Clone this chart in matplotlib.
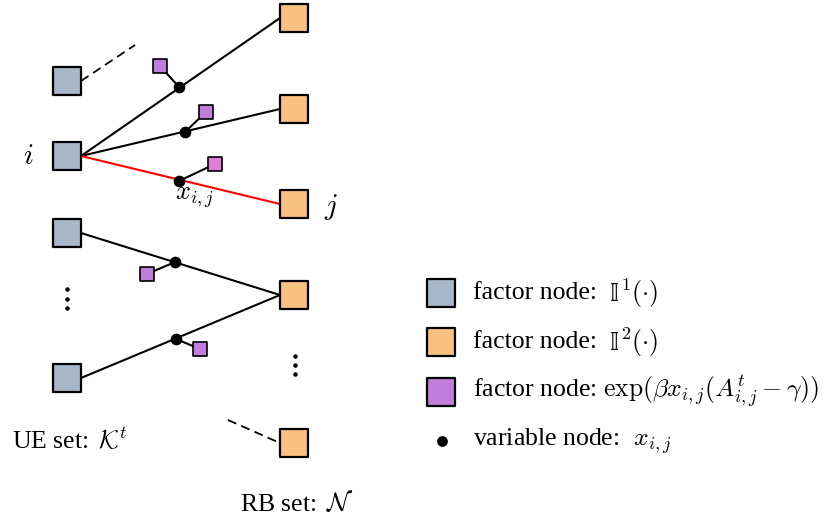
import matplotlib.pyplot as plt

plt.rcParams['font.family'] = ['Liberation Serif', 'DejaVu Serif']
plt.rcParams['mathtext.fontset'] = 'cm'

# node positions (pixel coordinates of the original drawing)
ue_x = 67
ue_y = [81, 156, 233, 378]
rb_x = 294
rb_y = [18, 109, 204, 295, 443]
half = 14  # half side of big square nodes

# edges: (ue index, rb index, colour)
edges = [(1, 0, 'black'), (1, 1, 'black'), (1, 2, 'red'), (2, 3, 'black'), (3, 3, 'black')]
var_x = [179, 185, 179, 175, 176]
var_y = [87, 132, 181, 262, 339]
exp_x = [160, 206, 215, 147, 200]
exp_y = [66, 112, 164, 274, 349]
exp_col = ['#c07ddb', '#c07ddb', '#df7ddb', '#c07ddb', '#c07ddb']

gray = '#a7b7c7'
orange = '#f9c17f'
purple = '#c07ddb'

fig = plt.figure(figsize=(8.35, 5.24), dpi=100)
ax = fig.add_axes([0, 0, 1, 1])
ax.set_xlim(0, 835)
ax.set_ylim(524, 0)
ax.axis('off')

# edges UE -> RB
for (u, r, c), vx, vy in zip(edges, var_x, var_y):
    ax.plot([ue_x + half, rb_x - half], [ue_y[u], rb_y[r]], color=c, lw=1.5, zorder=1)

# dashed edges
ax.plot([ue_x + half, 135], [ue_y[0], 45], color='black', lw=1.3, ls=(0, (5, 3)), zorder=1)
ax.plot([228, rb_x - half], [420, rb_y[4]], color='black', lw=1.3, ls=(0, (5, 3)), zorder=1)

# variable node -> exp factor
for vx, vy, ex, ey in zip(var_x, var_y, exp_x, exp_y):
    ax.plot([vx, ex], [vy, ey], color='black', lw=1.5, zorder=1)

ax.scatter([ue_x] * len(ue_y), ue_y, s=420, marker='s', c=gray, edgecolors='black', linewidths=1.6, zorder=3)
ax.scatter([rb_x] * len(rb_y), rb_y, s=420, marker='s', c=orange, edgecolors='black', linewidths=1.6, zorder=3)
ax.scatter(exp_x, exp_y, s=105, marker='s', c=exp_col, edgecolors='black', linewidths=1.2, zorder=3)
ax.scatter(var_x, var_y, s=55, c='black', zorder=4)

# vertical ellipses
ax.scatter([67] * 3, [289, 299, 308], s=5, c='black')
ax.scatter([295] * 3, [356, 365, 374], s=5, c='black')

# labels
ax.text(28, 157, r'$i$', fontsize=21, ha='center', va='center')
ax.text(331, 207, r'$j$', fontsize=21, ha='center', va='center')
ax.text(195, 198, r'$x_{i,j}$', fontsize=19, ha='center', va='center')
ax.text(12, 440, r'UE set: $\,\mathcal{K}^t$', fontsize=18.5, ha='left', va='center')
ax.text(240, 503, r'RB set: $\,\mathcal{N}$', fontsize=18.5, ha='left', va='center')

# legend
leg_y = [293, 342, 392, 441]
ax.scatter([441] * 3, leg_y[:3], s=420, marker='s', c=[gray, orange, purple], edgecolors='black', linewidths=1.6)
ax.scatter([442], [leg_y[3]], s=45, c='black')
for y, k in zip(leg_y[:2], ['1', '2']):
    ax.text(473, y, 'factor node:', fontsize=18.5, ha='left', va='center')
    ax.text(610, y + 1, '\U0001D540', fontsize=17, ha='left', va='center', family='DejaVu Sans')
    ax.text(620, y, r'${}^{%s}(\cdot)$' % k, fontsize=18.5, ha='left', va='center')
ax.text(473, leg_y[2], r'factor node: $\exp(\beta x_{i,j}(A_{i,j}^t-\gamma))$', fontsize=18.5, ha='left', va='center')
ax.text(473, leg_y[3], r'variable node: $\ x_{i,j}$', fontsize=18.5, ha='left', va='center')

fig.savefig('out.png', dpi=100)
